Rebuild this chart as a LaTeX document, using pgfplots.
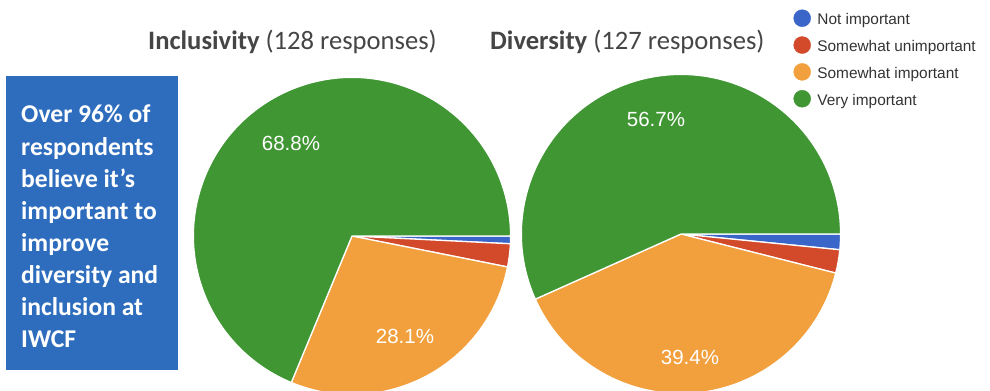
\documentclass[border=0pt]{standalone}
\usepackage{pgfplots}
\usepackage{pgfplotstable}
\pgfplotsset{compat=1.18}
\usepackage{fontspec}
\setmainfont{Carlito}
\newfontfamily\arialfont{Liberation Sans}

\definecolor{cNot}{HTML}{3B66C9}
\definecolor{cSomeUn}{HTML}{D24A2A}
\definecolor{cSomeImp}{HTML}{F2A03D}
\definecolor{cVery}{HTML}{3F9633}
\definecolor{boxblue}{HTML}{2E6DBD}
\definecolor{titlegray}{HTML}{454545}
\definecolor{legendgray}{HTML}{333333}

% responses per answer (128 and 127 responses)
\pgfplotstableread{
response count
Not 1
SomewhatUn 3
SomewhatImp 36
Very 88
}\inclusivity
\pgfplotstableread{
response count
Not 2
SomewhatUn 3
SomewhatImp 50
Very 72
}\diversity

% #1 table, #2 cx, #3 cy, #4 radius (bp), #5 total
\newcommand\drawpie[5]{%
  \gdef\pieacc{0}%
  \foreach \i/\col in {0/cNot,1/cSomeUn,2/cSomeImp,3/cVery}{%
    \pgfplotstablegetelem{\i}{count}\of{#1}%
    \pgfmathsetmacro\sweep{(\pgfplotsretval/#5)*360}%
    \pgfmathsetmacro\pa{-\pieacc}%
    \pgfmathsetmacro\pb{-\pieacc-\sweep}%
    \filldraw[fill=\col, draw=white, line width=1.3bp, line join=round]
      (axis cs:#2,#3) -- ++(\pa:#4bp) arc[start angle=\pa, end angle=\pb, radius=#4bp] -- cycle;
    \pgfmathsetmacro\newacc{\pieacc+\sweep}%
    \xdef\pieacc{\newacc}%
  }%
}

\begin{document}
\begin{tikzpicture}
\begin{axis}[
  width=990bp, height=391bp, scale only axis,
  xmin=0, xmax=990, ymin=0, ymax=391,
  hide axis, clip=false,
  legend cell align=left,
  legend image code/.code={\fill[#1] (8.5bp,2.5bp) circle[radius=8.5bp];},
  legend style={
    at={(axis cs:793.5,381.5)}, anchor=north west,
    draw=none, fill=none, inner sep=0pt, outer sep=0pt,
    font=\arialfont\fontsize{15.4bp}{18bp}\selectfont,
    text=legendgray,
    row sep=7.9bp,
    /tikz/every odd column/.append style={column sep=6.5bp},
    nodes={inner sep=0pt, text height=12bp, text depth=3.5bp},
  },
]
\addlegendimage{cNot}
\addlegendentry{Not important}
\addlegendimage{cSomeUn}
\addlegendentry{Somewhat unimportant}
\addlegendimage{cSomeImp}
\addlegendentry{Somewhat important}
\addlegendimage{cVery}
\addlegendentry{Very important}

\pgfplotsextra{\drawpie{\inclusivity}{352}{155}{158.6}{128}}
\pgfplotsextra{\drawpie{\diversity}{681}{157}{159.6}{127}}

% text box
\fill[boxblue] (axis cs:6,21) rectangle (axis cs:178,315);
\node[anchor=north west, inner sep=0pt, align=left, text=white,
  font=\bfseries\fontsize{25.6bp}{32.1bp}\selectfont] at (axis cs:21,286)
  {Over 96\% of\\respondents\\believe it’s\\important to\\improve\\diversity and\\inclusion at\\IWCF};

% titles
\node[anchor=base west, inner sep=0pt, text=titlegray,
  font=\fontsize{26.6bp}{30bp}\selectfont] at (axis cs:148,341)
  {\textbf{Inclusivity} (128 responses)};
\node[anchor=base west, inner sep=0pt, text=titlegray,
  font=\fontsize{26.6bp}{30bp}\selectfont] at (axis cs:490,341)
  {\textbf{Diversity} (127 responses)};

% slice labels
\begin{scope}[every node/.style={text=white, inner sep=0pt,
  font=\arialfont\fontsize{20.5bp}{24bp}\selectfont}]
\node at (axis cs:291,248) {68.8\%};
\node at (axis cs:405,55) {28.1\%};
\node at (axis cs:656,272) {56.7\%};
\node at (axis cs:690,34) {39.4\%};
\end{scope}
\end{axis}
\pgfresetboundingbox
\path[use as bounding box] (0,0) rectangle (990bp,391bp);
\end{tikzpicture}
\end{document}
